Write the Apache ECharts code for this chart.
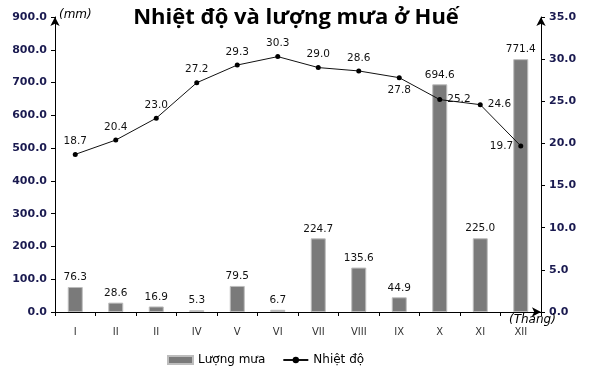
<!DOCTYPE html>
<html><head><meta charset="utf-8">
<script src="https://cdn.jsdelivr.net/npm/echarts@6/dist/echarts.min.js"></script>
<style>html,body{margin:0;padding:0;background:#fff}#c{width:604px;height:381px}</style>
</head><body><div id="c"></div>
<script>
const months = ['I','II','II','IV','V','VI','VII','VIII','IX','X','XI','XII'];
const rainfall = [76.3, 28.6, 16.9, 5.3, 79.5, 6.7, 224.7, 135.6, 44.9, 694.6, 225.0, 771.4];
const temperature = [18.7, 20.4, 23.0, 27.2, 29.3, 30.3, 29.0, 28.6, 27.8, 25.2, 24.6, 19.7];
const tempLabelPos = ['top','top','top','top','top','top','top','top','bottom','right','right','left'];

const font = 'DejaVu Sans';
const chart = echarts.init(document.getElementById('c'), null, {renderer:'canvas'});
chart.setOption({
  animation:false,
  title:{text:'Nhiệt độ và lượng mưa ở Huế', left:291, top:2, textAlign:'center',
    textStyle:{fontFamily:'Open Sans', fontWeight:'bold', fontSize:22, color:'#000'}},
  grid:{left:55, right:63, top:17, bottom:69, containLabel:false, outerBoundsMode:'none'},
  legend:{bottom:10, left:162, itemGap:17, itemWidth:25, itemHeight:8,
    textStyle:{fontFamily:font, fontSize:12, color:'#000'},
    data:[{name:'Lượng mưa', icon:'rect'},{name:'Nhiệt độ'}]},
  graphic:[{type:'text', left:509, top:314, z:10,
    style:{text:'(Tháng)', font:'italic 12px "DejaVu Sans"', fill:'#000'}}],
  xAxis:{type:'category', data:months,
    axisLine:{lineStyle:{color:'#000', width:1}, symbol:['none','arrow'], symbolSize:[7,9]},
    axisTick:{show:true, lineStyle:{color:'#000'}, length:4},
    axisLabel:{fontFamily:font, fontSize:10, color:'#333', margin:15}},
  yAxis:[
    {type:'value', min:0, max:900, interval:100, position:'left',
     name:'(mm)', nameLocation:'end', nameGap:-4,
     nameTextStyle:{fontFamily:font, fontStyle:'italic', fontSize:12, color:'#000', align:'left', padding:[0,0,0,4]},
     axisLine:{show:true, lineStyle:{color:'#000'}, symbol:['none','arrow'], symbolSize:[7,9]},
     axisTick:{show:true, length:4, lineStyle:{color:'#000'}},
     splitLine:{show:false},
     axisLabel:{fontFamily:font, fontSize:11, fontWeight:'bold', color:'#1a1a50', margin:8, formatter:v=>v.toFixed(1)}},
    {type:'value', min:0, max:35, interval:5, position:'right',
     axisLine:{show:true, lineStyle:{color:'#000'}, symbol:['none','arrow'], symbolSize:[7,9]},
     axisTick:{show:true, length:4, lineStyle:{color:'#000'}},
     splitLine:{show:false},
     axisLabel:{fontFamily:font, fontSize:11, fontWeight:'bold', color:'#1a1a50', margin:8, formatter:v=>v.toFixed(1)}}
  ],
  series:[
    {name:'Lượng mưa', type:'bar', yAxisIndex:0, data:rainfall, barWidth:15,
     itemStyle:{color:'#7a7a7a', borderColor:'#bdbdbd', borderWidth:1},
     label:{show:true, position:'top', distance:4, fontFamily:font, fontSize:10.5, color:'#111',
       formatter:p=>p.value.toFixed(1)}},
    {name:'Nhiệt độ', type:'line', yAxisIndex:1, z:5,
     data:temperature.map((v,i)=>({value:v, label:{position:tempLabelPos[i]}})),
     symbol:'circle', symbolSize:5,
     lineStyle:{color:'#111', width:1}, itemStyle:{color:'#000'},
     label:{show:true, distance:5, fontFamily:font, fontSize:10.5, color:'#111',
       formatter:p=>p.value.toFixed(1)}}
  ]
});
</script></body></html>
